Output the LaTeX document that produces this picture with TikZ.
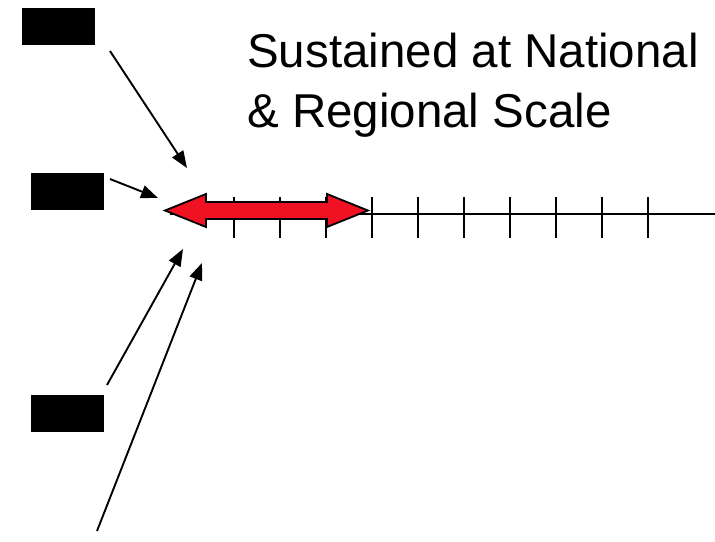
\documentclass[tikz,border=0pt]{standalone}
\usepackage{fontspec}
\setmainfont{Liberation Sans}
\usetikzlibrary{arrows.meta}
\definecolor{arrowred}{RGB}{240,18,35}
\tikzset{
  blackbox/.style={fill=black, draw=none, inner sep=0pt, minimum width=73pt, minimum height=37pt},
  pointer/.style={line width=1.9pt, -{Triangle[length=17pt,width=13pt]}},
  axisline/.style={line width=2pt},
  tickmark/.style={line width=2pt},
  label/.style={inner sep=0pt, anchor=base west, align=left, font=\fontsize{47.5}{60}\selectfont}
}
\begin{document}
\begin{tikzpicture}[x=1pt,y=-1pt]
  \useasboundingbox (0,0) rectangle (715,541);

  % black label boxes
  \node[blackbox] (b1) at (58.5,26) {};
  \node[blackbox] (b2) at (67,191.5) {};
  \node[blackbox] (b3) at (67,413.5) {};

  % time axis with tick marks
  \coordinate (axisL) at (170,214);
  \coordinate (axisR) at (715,214);
  \draw[axisline] (axisL) -- (axisR);
  \foreach \i in {0,...,9} {
    \draw[tickmark] (234+46*\i,197) -- (234+46*\i,238);
  }

  % red double-headed arrow
  \draw[line width=1.8pt, fill=arrowred, line join=miter]
    (165,210.5) -- (206,194) -- (206,202) -- (327,202) -- (327,194) -- (368,210.5)
    -- (327,227) -- (327,219) -- (206,219) -- (206,227) -- cycle;

  % caption (anchored on the baseline of its last line)
  \node[label] (cap) at (247,127) {Sustained at National\\\& Regional Scale};

  % pointers toward the arrow
  \coordinate (s1) at (110,51);   \coordinate (t1) at (187,168);
  \coordinate (s2) at (110,179);  \coordinate (t2) at (158,198);
  \coordinate (s3) at (107,385);  \coordinate (t3) at (183,249);
  \coordinate (s4) at (97,531);   \coordinate (t4) at (202,263);
  \draw[pointer] (s1) -- (t1);
  \draw[pointer] (s2) -- (t2);
  \draw[pointer] (s3) -- (t3);
  \draw[pointer] (s4) -- (t4);
\end{tikzpicture}
\end{document}
